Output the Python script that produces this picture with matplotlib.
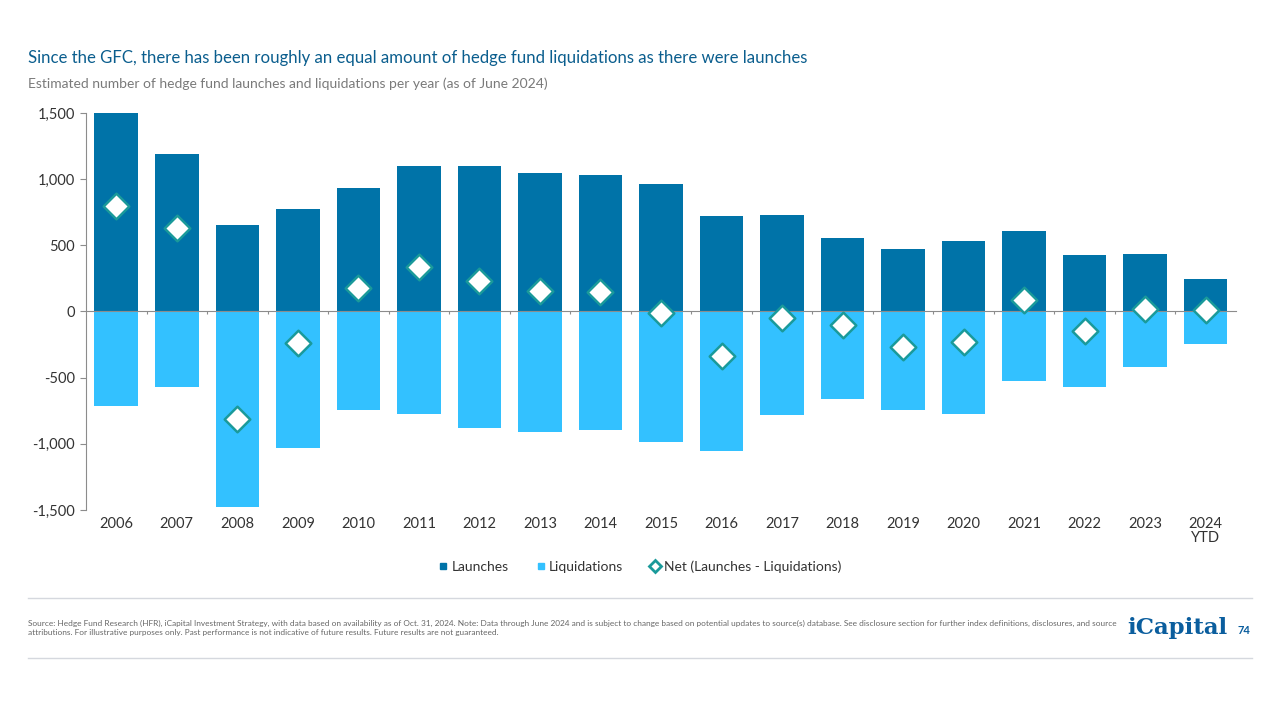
import numpy as np
import matplotlib
matplotlib.use("Agg")
import matplotlib.pyplot as plt
from matplotlib.lines import Line2D
import matplotlib.transforms as mtransforms

# ----------------------------
# Data
# ----------------------------

years = ["2006", "2007", "2008", "2009", "2010", "2011", "2012", "2013", "2014",
         "2015", "2016", "2017", "2018", "2019", "2020", "2021", "2022", "2023",
         "2024\nYTD"]

launches = [1500, 1190, 650, 778, 930, 1103, 1096, 1050, 1028,
            960, 718, 726, 552, 469, 529, 605, 423, 431, 249]

liquidations = [-718, -567, -1474, -1028, -748, -778, -877, -907, -899,
                -983, -1058, -786, -665, -741, -771, -529, -574, -423, -249]

net = [794, 627, -816, -242, 181, 333, 227, 151, 144,
       -15, -333, -53, -106, -265, -234, 83, -144, 15, 8]

yticks = [-1500, -1000, -500, 0, 500, 1000, 1500]
ytick_labels = ["-1,500", "-1,000", "-500", "0", "500", "1,000", "1,500"]

# ----------------------------
# Style
# ----------------------------

dark_blue = "#0073A8"
light_blue = "#33C1FF"
teal = "#1A9A9A"
title_col = "#0B5E8E"
grey_txt = "#7A7A7A"
axis_col = "#8C8C8C"
label_col = "#333333"

plt.rcParams["font.family"] = ["Lato", "DejaVu Sans"]

fig = plt.figure(figsize=(12.8, 7.2), dpi=100)
ax = fig.add_axes([0.0672, 0.2917, 0.8984, 0.5514])

x = np.arange(len(years))

ax.bar(x, launches, width=0.72, color=dark_blue, zorder=2)
ax.bar(x, liquidations, width=0.72, color=light_blue, zorder=2)
ax.scatter(x, net, marker="D", s=170, facecolor="white", edgecolor=teal,
           linewidth=1.8, zorder=4)

ax.set_xlim(-0.5, len(years) - 0.5)
ax.set_ylim(-1500, 1500)
ax.set_yticks(yticks)
ax.set_yticklabels(ytick_labels)
ax.tick_params(axis="y", length=4, color=axis_col, labelsize=10.5,
               labelcolor=label_col, pad=4)

for s in ["top", "right"]:
    ax.spines[s].set_visible(False)
ax.spines["left"].set_color(axis_col)
ax.spines["bottom"].set_color(axis_col)
ax.spines["bottom"].set_position(("data", 0))
ax.spines["bottom"].set_zorder(3)

# small ticks at category boundaries on the zero line
ax.set_xticks(x[:-1] + 0.5)
ax.set_xticklabels([])
ax.tick_params(axis="x", length=2.5, color=axis_col, direction="out")

trans = mtransforms.blended_transform_factory(ax.transData, ax.transAxes)
for xi, lab in zip(x, years):
    ax.text(xi, -0.018, lab, transform=trans, ha="center", va="top",
            fontsize=10.5, color=label_col, linespacing=1.0)

# ----------------------------
# Legend
# ----------------------------

handles = [
    Line2D([], [], marker="s", linestyle="none", markersize=5,
           markerfacecolor=dark_blue, markeredgecolor=dark_blue),
    Line2D([], [], marker="s", linestyle="none", markersize=5,
           markerfacecolor=light_blue, markeredgecolor=light_blue),
    Line2D([], [], marker="D", linestyle="none", markersize=6,
           markerfacecolor="white", markeredgecolor=teal, markeredgewidth=2),
]
fig.legend(handles, ["Launches", "Liquidations", "Net (Launches - Liquidations)"],
           loc="center", bbox_to_anchor=(0.5, 1 - 567 / 720), ncol=3,
           frameon=False, fontsize=10, handlelength=0.6, handletextpad=0.3,
           columnspacing=2.0, labelcolor=label_col)

# ----------------------------
# Titles and footer
# ----------------------------

fig.text(28 / 1280, 1 - 58 / 720,
         "Since the GFC, there has been roughly an equal amount of hedge fund "
         "liquidations as there were launches",
         fontsize=12.1, color=title_col, va="center", ha="left")
fig.text(28 / 1280, 1 - 84 / 720,
         "Estimated number of hedge fund launches and liquidations per year "
         "(as of June 2024)",
         fontsize=10, color=grey_txt, va="center", ha="left")

fig.add_artist(Line2D([28 / 1280, 1252 / 1280], [1 - 598 / 720] * 2,
                      color="#D5D8DE", linewidth=1))
fig.add_artist(Line2D([28 / 1280, 1252 / 1280], [1 - 658 / 720] * 2,
                      color="#D5D8DE", linewidth=1))

footer = ("Source: Hedge Fund Research (HFR), iCapital Investment Strategy, with data "
          "based on availability as of Oct. 31, 2024. Note: Data through June 2024 and "
          "is subject to change based on potential updates to source(s) database. See "
          "disclosure section for further index definitions, disclosures, and source\n"
          "attributions. For illustrative purposes only. Past performance is not "
          "indicative of future results. Future results are not guaranteed.")
fig.text(28 / 1280, 1 - 628 / 720, footer, fontsize=5.95, color="#666666",
         va="center", ha="left", linespacing=1.4)

fig.text(1228 / 1280, 1 - 628 / 720, "iCapital", fontsize=16.5, color="#0B5E9E",
         va="center", ha="right", family=["DejaVu Serif"], fontweight="bold")
fig.text(1237 / 1280, 1 - 631 / 720, "74", fontsize=8, color="#0B5E9E",
         va="center", ha="left", fontweight="bold")

fig.savefig("out.png", dpi=100)
